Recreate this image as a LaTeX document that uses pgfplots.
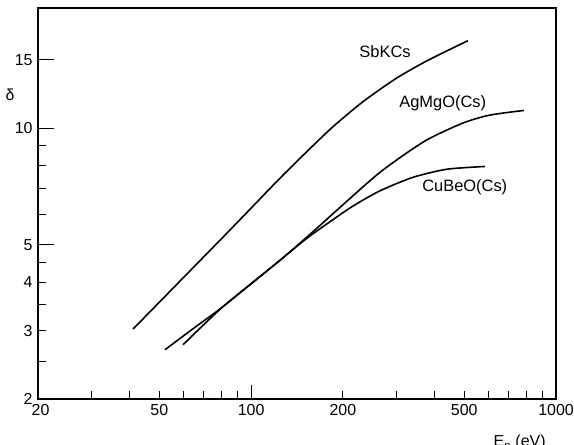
\documentclass[border=0pt]{standalone}
\usepackage{fontspec}
\setmainfont{Liberation Sans}
\usepackage{pgfplots}
\pgfplotsset{compat=1.18}

% secondary electron yield curves
\pgfplotstableread{
E      d
41     3.03
85.3   5.46
127    7.55
181    9.90
233    11.7
300    13.45
380    14.95
514    16.8
}\sbkcs
\pgfplotstableread{
E      d
59.8   2.76
80.8   3.46
121.5  4.49
153.6  5.26
260    7.60
371    9.25
495    10.3
607    10.8
784    11.1
}\agmgo
\pgfplotstableread{
E      d
52.2   2.68
65     3.05
80.8   3.46
121.5  4.49
153.6  5.22
211    6.22
264    6.88
339    7.46
438    7.83
584    7.96
}\cubeo

\begin{document}
\fontsize{16}{19}\selectfont
\begin{tikzpicture}
\begin{axis}[
    name=ax,
    scale only axis,
    width=518bp,
    height=391bp,
    xmode=log, ymode=log,
    xmin=20, xmax=1000,
    ymin=2, ymax=20.4,
    xtick={20,50,100,200,500,1000},
    xticklabels={\hspace{5bp}20,50,100,200,500,1000},
    minor xtick={30,40,60,70,80,90,300,400,600,700,800,900},
    ytick={2,3,4,5,10,15},
    yticklabels={2\hspace{7bp},3,4,5,10,15},
    minor ytick={2.5,3.5,4.5,6,7,8,9},
    extra x ticks={100},
    extra x tick labels={},
    extra x tick style={major tick length=14bp},
    extra y ticks={5,10,15},
    extra y tick labels={},
    extra y tick style={major tick length=16bp},
    major tick length=8bp,
    minor tick length=8bp,
    tick align=inside,
    xtick pos=bottom, ytick pos=left,
    axis line style={line width=1.1bp},
    tick style={black, line width=0.9bp},
    clip=false,
]
\addplot[black, line width=1.6bp, smooth, tension=0.4, no markers] table[x=E, y=d] {\sbkcs};
\addplot[black, line width=1.6bp, smooth, tension=0.4, no markers] table[x=E, y=d] {\agmgo};
\addplot[black, line width=1.6bp, smooth, tension=0.4, no markers] table[x=E, y=d] {\cubeo};

\node[font=\fontsize{16.5}{19}\selectfont] at (axis cs:275,15.7) {SbKCs};
\node[font=\fontsize{16.5}{19}\selectfont] at (axis cs:425,11.6) {AgMgO(Cs)};
\node[font=\fontsize{16.5}{19}\selectfont] at (axis cs:502,7.05) {CuBeO(Cs)};
\node at (axis cs:20,12.2) [xshift=-28bp] {δ};
\node[anchor=base] at (axis cs:760,2) [yshift=-48bp] {E\textsubscript{p} (eV)};
\end{axis}
\pgfresetboundingbox
\path[use as bounding box] ([xshift=-38bp,yshift=-46bp]ax.south west) rectangle ([xshift=18bp,yshift=8bp]ax.north east);
\end{tikzpicture}
\end{document}
